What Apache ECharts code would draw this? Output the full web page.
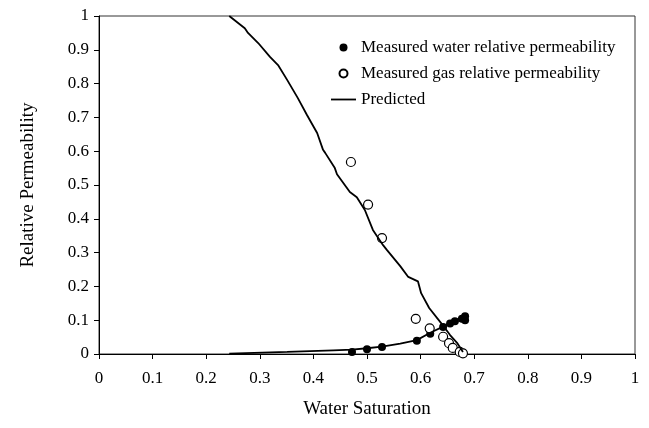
<!DOCTYPE html>
<html>
<head>
<meta charset="utf-8">
<title>Relative Permeability</title>
<script src="https://cdn.jsdelivr.net/npm/echarts@6/dist/echarts.min.js"></script>
<style>
  html, body, #main { width: 649px; height: 428px; margin: 0; padding: 0; background: #fff; }
</style>
</head>
<body>
<div id="main"></div>
<script type="text/javascript">
// [water saturation, relative permeability]
var measuredWater = [
  [0.472, 0.006], [0.500, 0.014], [0.528, 0.021], [0.593, 0.039], [0.618, 0.060],
  [0.642, 0.080], [0.655, 0.090], [0.664, 0.097], [0.677, 0.104], [0.683, 0.112],
  [0.683, 0.100], [0.679, 0.004]
];
var measuredGas = [
  [0.470, 0.568], [0.502, 0.442], [0.528, 0.343], [0.591, 0.104], [0.617, 0.076],
  [0.642, 0.051], [0.653, 0.032], [0.660, 0.018], [0.673, 0.006], [0.679, 0.002]
];
var predictedGas = [
  [0.243, 1.000], [0.272, 0.964], [0.278, 0.950], [0.297, 0.920], [0.319, 0.879],
  [0.334, 0.855], [0.351, 0.811], [0.371, 0.757], [0.388, 0.707], [0.407, 0.654],
  [0.418, 0.604], [0.422, 0.595], [0.440, 0.550], [0.444, 0.532], [0.468, 0.479],
  [0.481, 0.464], [0.496, 0.426], [0.511, 0.367], [0.530, 0.322], [0.537, 0.308],
  [0.562, 0.260], [0.577, 0.228], [0.595, 0.215], [0.601, 0.180], [0.616, 0.136],
  [0.639, 0.090], [0.655, 0.056], [0.668, 0.033], [0.679, 0.006]
];
var predictedWater = [
  [0.243, 0.001], [0.351, 0.006], [0.437, 0.011], [0.472, 0.013], [0.500, 0.017],
  [0.528, 0.022], [0.562, 0.031], [0.593, 0.041], [0.618, 0.063], [0.642, 0.081],
  [0.660, 0.095], [0.683, 0.113]
];
var legendNames = ['Measured water relative permeability', 'Measured gas relative permeability', 'Predicted'];

var serif = '"Liberation Serif", "Times New Roman", serif';
var myChart = echarts.init(document.getElementById('main'));

var axisCommon = {
  type: 'value',
  min: 0,
  max: 1,
  interval: 0.1,
  nameLocation: 'middle',
  nameTextStyle: { fontFamily: serif, fontSize: 19, color: '#000' },
  axisLine: { show: true, lineStyle: { color: '#000', width: 1 } },
  axisTick: { show: true, inside: false, length: 5, lineStyle: { color: '#000' } },
  axisLabel: { fontFamily: serif, fontSize: 17, color: '#000' },
  splitLine: { show: false }
};

myChart.setOption({
  animation: false,
  grid: {
    left: 99, right: 14, top: 16, bottom: 74,
    show: true, borderColor: '#333', borderWidth: 1
  },
  xAxis: echarts.util.merge({
    name: 'Water Saturation',
    nameGap: 46,
    axisLabel: { margin: 16 }
  }, axisCommon),
  yAxis: echarts.util.merge({
    name: 'Relative Permeability',
    nameGap: 61,
    axisLabel: { margin: 10 }
  }, axisCommon),
  legend: {
    data: [
      { name: legendNames[0] },
      { name: legendNames[1] },
      { name: legendNames[2], icon: 'path://M0,0H25V1.8H0Z' }
    ],
    orient: 'vertical',
    left: 326,
    top: 34,
    itemWidth: 25,
    itemHeight: 8,
    itemGap: 9,
    textStyle: { fontFamily: serif, fontSize: 17, color: '#000', lineHeight: 17 }
  },
  series: [
    {
      name: 'Predicted', type: 'line', data: predictedGas,
      symbol: 'none', lineStyle: { color: '#000', width: 1.8 }, itemStyle: { color: '#000' }
    },
    {
      name: 'Predicted', type: 'line', data: predictedWater,
      symbol: 'none', lineStyle: { color: '#000', width: 1.8 }, itemStyle: { color: '#000' }
    },
    {
      name: legendNames[0], type: 'scatter', data: measuredWater,
      symbol: 'circle', symbolSize: 8, itemStyle: { color: '#000', opacity: 1 }
    },
    {
      name: legendNames[1], type: 'scatter', data: measuredGas,
      symbol: 'circle', symbolSize: 9,
      itemStyle: { color: '#fff', borderColor: '#000', borderWidth: 1.2, opacity: 1 }
    }
  ]
});
</script>
</body>
</html>
